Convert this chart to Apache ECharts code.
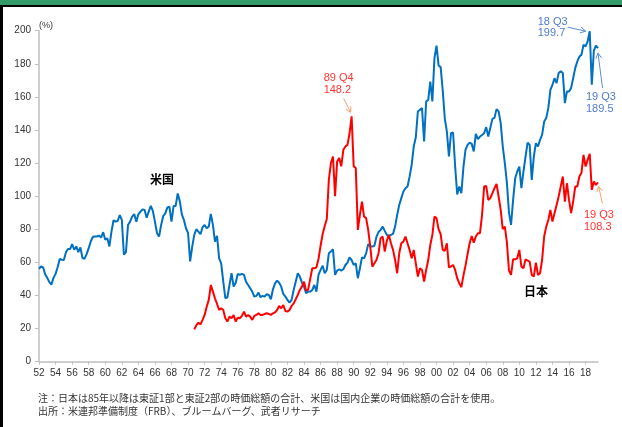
<!DOCTYPE html>
<html>
<head>
<meta charset="utf-8">
<script src="https://cdn.jsdelivr.net/npm/echarts@6/dist/echarts.min.js"></script>
<style>
html,body{margin:0;padding:0;background:#fff;}
#main{width:622px;height:427px;}
</style>
</head>
<body>
<div id="main"></div>
<script>
// 四半期ラベル 1952Q1 - 2019Q3
var startYear = 1952, endYear = 2019, lastQuarter = 3;
var quarters = [];
for (var y = startYear; y <= endYear; y++) {
	for (var q = 1; q <= 4; q++) {
		if (y == endYear && q > lastQuarter) break;
		quarters.push(String(y).slice(2) + 'Q' + q);
	}
}

// 米国 株式時価総額/GDP (%), 1952Q1 から
var usValues = [
	56, 57.6, 57, 52.6,   50.6, 48, 46.5, 50.6,   53, 57, 62, 61.6,   61.4, 66, 68, 68,
	71, 67.6, 69.6, 66.2,   69, 62.6, 62.2, 65,   68.6, 72.6, 75.4, 75.6,   75.6, 76.2, 75, 78.2,
	73.6, 74.6, 69.6, 78.6,   85.4, 84.6, 85, 88.6,   85.6, 64.6, 66.2, 82.6,   84.6, 87.6, 89.2, 84.6,
	89, 90.6, 92, 91.6,   87, 90.6, 94.2, 91,   84.6, 77.6, 75.6, 82.6,   88, 89.6, 93.2, 93.6,
	84.6, 94, 94, 101.6,   97, 89, 85.6, 80.6,   77.6, 60.6, 69.5, 76.6,   80, 78.6, 77, 81.2,
	82.6, 80.6, 81.6, 89.3,   82.6, 72.5, 76, 62.4,   59.4, 48.3, 38.3, 38.9,   46.3, 53.4, 45.3, 47.7,
	53, 52.4, 53, 52.4,   48.3, 46.3, 44.3, 42.3,   39.3, 39.7, 41.7, 38.9,   39.7, 39.3, 40.7, 40.3,
	37.7, 43.7, 47.3, 48.9,   47.7, 45.3, 40.9, 39.3,   37.3, 35.6, 37.3, 43.3,   48.3, 53.4, 51.4, 47.7,
	45.3, 41.3, 42.3, 42.3,   43.3, 46.3, 42.3, 52.4,   55.4, 58, 53.4, 55.4,   65.5, 66.5, 67.9, 52.4,
	55, 55.8, 55, 55.8,   58.4, 59.8, 63, 61.4,   58.4, 59.4, 50.4, 56.4,   63, 62.4, 65.4, 71,
	69.7, 69.5, 70, 75.5,   78.3, 79.6, 81.6, 79,   76.6, 75.9, 76.6, 77.2,   81.6, 88.7, 94.7, 98.8,
	102.8, 104.8, 105.8, 111.8,   118.9, 130, 135.6, 151.2,   152.2, 153.2, 133, 157.2,   158.2, 169.3, 157.2, 183.4,
	191, 179, 178, 164,   147, 139, 124, 138,   138.5, 118, 101, 105.8,   101.8, 117.5, 128, 131,
	132.4, 131.6, 127, 137.6,   134.4, 136, 137, 138,   141.7, 136, 141.3, 146.7,   147.3, 152.6, 151.2, 144.1,
	130, 120, 108, 90,   82.6, 97.7, 110.8, 114.9,   117.9, 104.8, 114.9, 123.9,   132.4, 131, 109.8, 123.9,
	132, 130, 134, 137,   145.1, 147.2, 153.2, 164.3,   167.3, 171.3, 168.3, 174.4,   175.4, 174.4, 156.2, 163.3,
	163.3, 165.3, 171.3, 177.4,   181.4, 184.4, 185.4, 191.5,   190.5, 193.5, 199.7, 167.3,   188, 191, 189.5
];

// 日本 株式時価総額/GDP (%), 1970Q4 から
var jpStart = '70Q4';
var jpValues = [
	19.5,
	22, 23.5, 22.5, 25.2,   28.2, 33.2, 37.3, 46.3,   42.3, 38.3, 34.8, 31.2,   32.2, 31.2, 26.2, 24.2,
	27.2, 26.2, 28.2, 24.2,   26.5, 26.2, 27.6, 30.2,   27.2, 28.2, 27.2, 25.2,   27.6, 28.2, 29.2, 28.2,
	28.2, 28.8, 29.2, 28.8,   28.2, 29.2, 29.8, 31.2,   33.6, 32.2, 34.2, 30.6,   30.2, 31.2, 33.6, 35.2,
	37.7, 40.3, 43.3, 45.3,   48.3, 43, 43.5, 50,   56.4, 56.4, 57, 62,   70, 77, 82, 86,
	110, 120, 124, 100,   121, 123, 118, 128,   130, 131, 138, 148.2,   118, 117, 79.6, 88.7,
	96.7, 87.7, 86.7, 79.6,   69.5, 57.4, 59.4, 61.4,   65.5, 74.6, 75.6, 66.5,   73, 76.6, 71.5, 67.5,
	61.4, 53.4, 65.5, 71.5,   72.5, 75.6, 71.5, 67.5,   62.4, 67.5, 59.4, 51.4,   56.4, 55.4, 48.3, 55.4,
	61.4, 70.5, 76.6, 87.7,   86.7, 80, 77, 67.5,   67, 71.5, 57, 57.5,   58.4, 55.4, 50.4, 47.3,
	45, 52, 58, 65,   71.5, 75.9, 71.9, 75.6,   77.6, 77.6, 88.7, 105.8,   106.2, 97.7, 98.8, 101.8,
	104.8, 107.4, 99.8, 91.7,   80, 81.6, 72, 55,   52.4, 61.8, 61.8, 62.4,   67.5, 57.4, 56.4, 61.8,
	61, 60.4, 52.4, 51.4,   59.8, 52.4, 53.4, 61.4,   75.6, 81.6, 85.6, 91.7,   84.6, 89.7, 94.7, 99.8,
	105.8, 111.9, 96.7, 107.8,   97.7, 89.7, 96.7, 105.8,   105.8, 111.9, 114, 124.9,   117.9, 121.9, 125.6, 103.8,
	108.8, 106.8, 108.3
];

var yTicks = {min: 0, max: 200, interval: 20};

// 日本の系列を四半期軸にあわせる
var jpOffset = quarters.indexOf(jpStart);
var jpSeries = [];
for (var i = 0; i < quarters.length; i++) {
	jpSeries.push(i < jpOffset ? null : jpValues[i - jpOffset]);
}

var axisGray = '#bfbfbf';
var textColor = '#333333';
var jpFont = '"Noto Sans CJK JP", sans-serif';

var option = {
	animation: false,
	grid: {left: 39, right: 24, top: 30.7, bottom: 65.4},
	xAxis: {
		type: 'category',
		data: quarters,
		boundaryGap: false,
		axisLine: {lineStyle: {color: axisGray, width: 1.5}},
		axisTick: {show: true, interval: 7, length: 3, lineStyle: {color: axisGray}},
		axisLabel: {
			interval: 7,
			margin: 7,
			color: textColor,
			fontSize: 10,
			fontFamily: 'Liberation Sans',
			formatter: function (v) { return v.slice(0, 2); }
		},
		splitLine: {show: false}
	},
	yAxis: {
		type: 'value',
		min: yTicks.min,
		max: yTicks.max,
		interval: yTicks.interval,
		axisLine: {show: true, lineStyle: {color: axisGray, width: 1.5}},
		axisTick: {show: true, length: 4, lineStyle: {color: axisGray}},
		axisLabel: {margin: 8, color: textColor, fontSize: 10, fontFamily: 'Liberation Sans'},
		splitLine: {show: false}
	},
	series: [
		{
			name: '米国',
			type: 'line',
			data: usValues,
			showSymbol: false,
			lineStyle: {color: '#0070C0', width: 2},
			itemStyle: {color: '#0070C0'}
		},
		{
			name: '日本',
			type: 'line',
			data: jpSeries,
			showSymbol: false,
			connectNulls: false,
			lineStyle: {color: '#FF0000', width: 2},
			itemStyle: {color: '#FF0000'}
		}
	]
};

var chart = echarts.init(document.getElementById('main'));
chart.setOption(option);

// 注記（データ点を基準に配置）
var notes = [
	{data: usValues, idx: quarters.indexOf('18Q3'), text: '18 Q3\n199.7', color: '#4F7BCF', arrow: '#5B8BD9', tx: -52, ty: -15, lh: 11, from: [-22, -4], to: [-4, 0]},
	{data: usValues, idx: quarters.indexOf('19Q3'), text: '19 Q3\n189.5', color: '#4F7BCF', arrow: '#5B8BD9', tx: -12, ty: 43, lh: 12, from: [4.5, 40], to: [0, 5]},
	{data: jpSeries, idx: quarters.indexOf('89Q4'), text: '89 Q4\n148.2', color: '#FF3333', arrow: '#F4A06A', tx: -28, ty: -45, lh: 12.5, from: [-8, -18], to: [-1, -4]},
	{data: jpSeries, idx: quarters.indexOf('19Q3'), text: '19 Q3\n108.3', color: '#FF3333', arrow: '#F4A06A', tx: -14, ty: 26, lh: 12.5, from: [4.5, 21], to: [0.5, 4]}
];

var graphics = [
	{type: 'rect', left: 0, top: 0, shape: {width: 622, height: 5}, style: {fill: '#339966'}},
	{type: 'rect', left: 0, top: 5, shape: {width: 622, height: 2}, style: {fill: '#000'}},
	{type: 'rect', left: 0, top: 5, shape: {width: 3, height: 422}, style: {fill: '#000'}},
	{type: 'text', left: 39, top: 21, style: {text: '(%)', fill: textColor, font: '9px "Liberation Sans"'}},
	{type: 'text', left: 150, top: 173, style: {text: '米国', fill: '#000', font: 'bold 12px ' + jpFont}},
	{type: 'text', left: 524, top: 285, style: {text: '日本', fill: '#000', font: 'bold 12px ' + jpFont}},
	{type: 'text', left: 38, top: 393, style: {text: '注：日本は85年以降は東証1部と東証2部の時価総額の合計、米国は国内企業の時価総額の合計を使用。', fill: textColor, font: '10px ' + jpFont}},
	{type: 'text', left: 38, top: 406, style: {text: '出所：米連邦準備制度（FRB）、ブルームバーグ、武者リサーチ', fill: textColor, font: '10px ' + jpFont}}
];

for (var n = 0; n < notes.length; n++) {
	var nt = notes[n];
	var p = chart.convertToPixel({gridIndex: 0}, [quarters[nt.idx], nt.data[nt.idx]]);
	graphics.push({
		type: 'text', x: p[0] + nt.tx, y: p[1] + nt.ty,
		style: {text: nt.text, fill: nt.color, font: '11px "Liberation Sans"', lineHeight: nt.lh}
	});
	var x1 = p[0] + nt.from[0], y1 = p[1] + nt.from[1];
	var x2 = p[0] + nt.to[0], y2 = p[1] + nt.to[1];
	var ang = Math.atan2(y2 - y1, x2 - x1);
	var hl = 6, ha = 0.5;
	graphics.push({type: 'line', shape: {x1: x1, y1: y1, x2: x2, y2: y2}, style: {stroke: nt.arrow, lineWidth: 1}});
	graphics.push({
		type: 'polyline',
		shape: {points: [
			[x2 - hl * Math.cos(ang - ha), y2 - hl * Math.sin(ang - ha)],
			[x2, y2],
			[x2 - hl * Math.cos(ang + ha), y2 - hl * Math.sin(ang + ha)]
		]},
		style: {stroke: nt.arrow, lineWidth: 1, fill: null}
	});
}

chart.setOption({graphic: graphics});
</script>
</body>
</html>
